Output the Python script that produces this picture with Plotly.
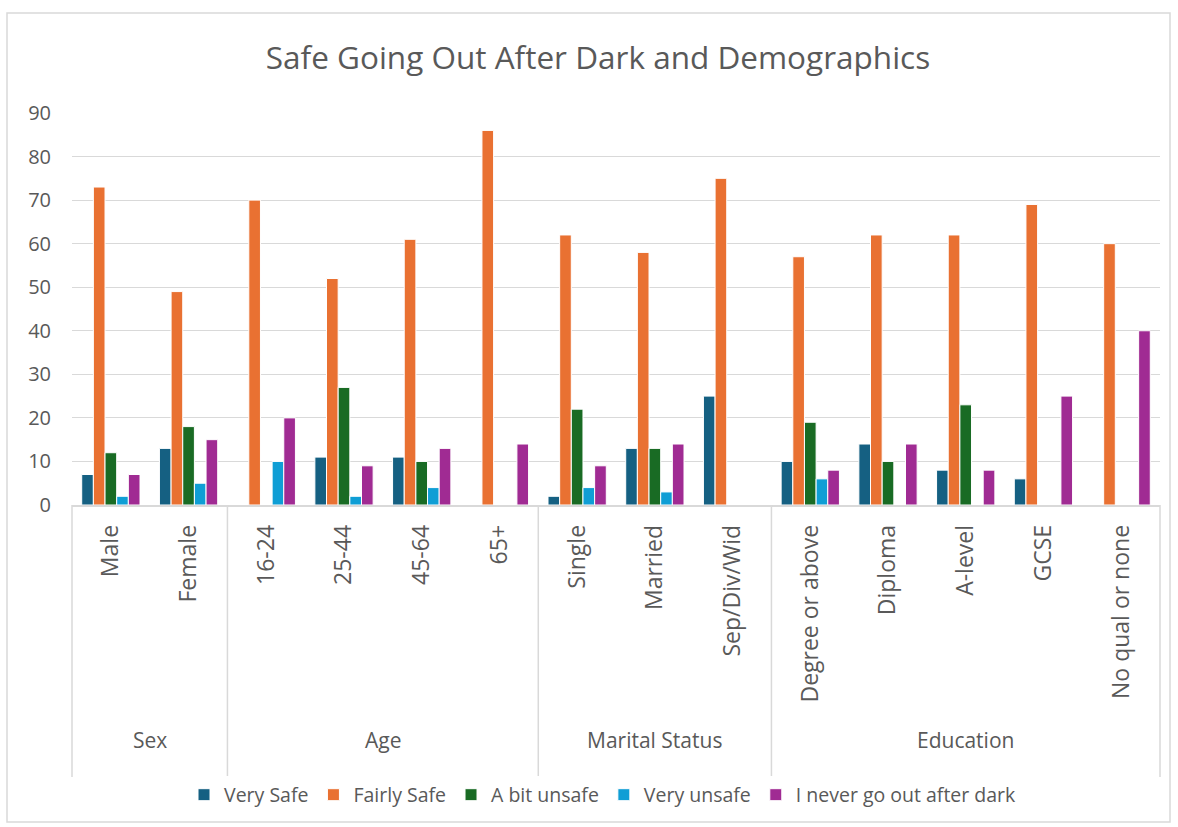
import plotly.graph_objects as go

categories = ["Male", "Female", "16-24", "25-44", "45-64", "65+", "Single", "Married",
              "Sep/Div/Wid", "Degree or above", "Diploma", "A-level", "GCSE", "No qual or none"]
groups = ["Sex", "Age", "Marital Status", "Education"]
group_sizes = [2, 4, 3, 5]

very_safe = [7, 13, 0, 11, 11, 0, 2, 13, 25, 10, 14, 8, 6, 0]
fairly_safe = [73, 49, 70, 52, 61, 86, 62, 58, 75, 57, 62, 62, 69, 60]
bit_unsafe = [12, 18, 0, 27, 10, 0, 22, 13, 0, 19, 10, 23, 0, 0]
very_unsafe = [2, 5, 10, 2, 4, 0, 4, 3, 0, 6, 0, 0, 0, 0]
never_out = [7, 15, 20, 9, 13, 14, 9, 14, 0, 8, 14, 8, 25, 40]

series_names = ["Very Safe", "Fairly Safe", "A bit unsafe", "Very unsafe", "I never go out after dark"]
series_values = [very_safe, fairly_safe, bit_unsafe, very_unsafe, never_out]
colors = ["#156082", "#E97132", "#196B24", "#0F9ED5", "#A02B93"]

FONT = "Open Sans"
GREY = "#595959"
LINE = "#D9D9D9"

W, H = 1178, 827
L, R, T, B = 72, 18, 113, 322
pw, ph = W - L - R, H - T - B

def px(x):
    return (x - L) / pw

def py(y):
    return (H - B - y) / ph

fig = go.Figure()
for name, vals, c in zip(series_names, series_values, colors):
    fig.add_trace(go.Bar(x=categories, y=vals, name=name, marker_color=c,
                         marker_line=dict(color="white", width=1)))

fig.update_layout(
    width=W, height=H,
    margin=dict(l=L, r=R, t=T, b=B, pad=0),
    paper_bgcolor="white", plot_bgcolor="white",
    barmode="group", bargap=0.25, bargroupgap=0.0,
    font=dict(family=FONT, color=GREY),
    title=dict(text="Safe Going Out After Dark and Demographics", x=598 / W, xanchor="center",
               y=1 - 58 / H, yanchor="middle", font=dict(size=31.5, color=GREY, family=FONT)),
    legend=dict(orientation="h", x=px(603), xanchor="center", y=py(795), yanchor="middle",
                font=dict(size=19.5, color=GREY, family=FONT), itemwidth=30, traceorder="normal"),
    showlegend=True,
)
fig.update_yaxes(range=[0, 90], dtick=10, showgrid=True, gridcolor=LINE, gridwidth=1.3,
                 zeroline=False, showline=False, ticks="", ticklabelstandoff=20,
                 tickfont=dict(size=20, color=GREY, family=FONT))
fig.update_xaxes(showline=True, linecolor=LINE, linewidth=1.5, ticks="", tickangle=-90,
                 ticklabelstandoff=9, tickfont=dict(size=23, color=GREY, family=FONT),
                 showgrid=False)

# group dividers
bounds = [0]
for s in group_sizes:
    bounds.append(bounds[-1] + s)
n = len(categories)
for b in bounds:
    fig.add_shape(type="line", xref="paper", yref="paper", x0=b / n, x1=b / n,
                  y0=0, y1=py(777), line=dict(color=LINE, width=1.5))
for g, b0, b1 in zip(groups, bounds[:-1], bounds[1:]):
    fig.add_annotation(text=g, xref="paper", yref="paper", x=(b0 + b1) / 2 / n, y=py(740),
                       showarrow=False, xanchor="center", yanchor="middle",
                       font=dict(size=21, color=GREY, family=FONT))

# outer chart border
fig.add_shape(type="rect", xref="paper", yref="paper", x0=px(7), x1=px(1170),
              y0=py(822), y1=py(13), line=dict(color=LINE, width=1.5), layer="below")

fig.write_html("out.html", post_script="document.body.style.margin='0';",
               config={"displayModeBar": False})
